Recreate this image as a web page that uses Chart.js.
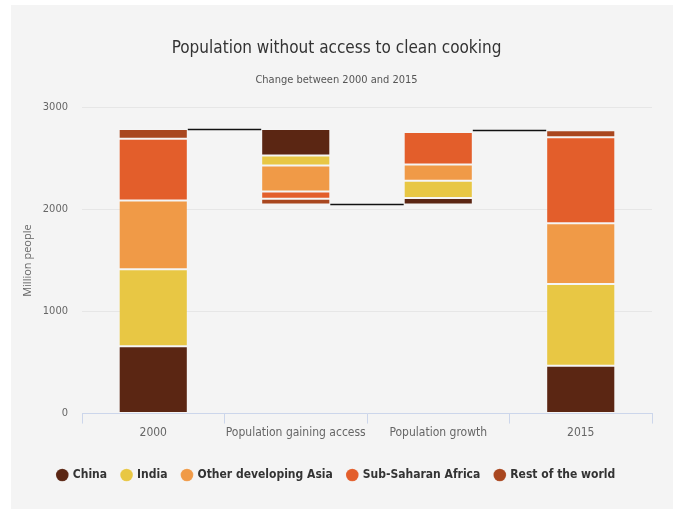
<!DOCTYPE html>
<html>
<head>
<meta charset="utf-8">
<script src="https://cdn.jsdelivr.net/npm/chart.js@4"></script>
<style>
    html, body { margin: 0; padding: 0; background: #ffffff; }
    /* grey panel behind the chart */
    .panel {
        position: absolute;
        left: 11px;
        top: 5px;
        width: 662px;
        height: 504px;
        background: #f4f4f4;
    }
</style>
</head>
<body>
<div class="panel">
    <canvas id="cookingChart" width="662" height="504"></canvas>
</div>
<script>
    const FONT = "'Liberation Sans Narrow', 'DejaVu Sans Condensed', 'Open Sans', sans-serif";

    const categories = ['2000', 'Population gaining access', 'Population growth', '2015'];
    const regions = ['China', 'India', 'Other developing Asia', 'Sub-Saharan Africa', 'Rest of the world'];
    const colors = ['#5b2613', '#e8c744', '#f09a47', '#e35e2b', '#a9471f'];

    // million people, in region order
    const people2000 = [660, 755, 675, 605, 95];
    const gainingAccess = [259, 98, 255, 71, 56];
    const growth = [62, 170, 160, 317, 19];
    const people2015 = [468, 803, 595, 843, 68];

    const yTicks = [0, 1000, 2000, 3000];

    const sum = a => a.reduce((s, v) => s + v, 0);
    const total2000 = sum(people2000);
    const afterAccess = total2000 - sum(gainingAccess);
    const afterGrowth = afterAccess + sum(growth);

    // floating [low, high] ranges for every region in every column
    function ranges(i) {
        const below = a => sum(a.slice(0, i));
        // gaining access hangs down from the 2000 total, China on top
        const accTop = total2000 - below(gainingAccess);
        return [
            [below(people2000), below(people2000) + people2000[i]],
            [accTop - gainingAccess[i], accTop],
            [afterAccess + below(growth), afterAccess + below(growth) + growth[i]],
            [below(people2015), below(people2015) + people2015[i]]
        ];
    }

    const datasets = regions.map((name, i) => ({
        label: name,
        data: ranges(i),
        backgroundColor: colors[i],
        borderColor: 'rgba(255,255,255,0.15)',
        borderWidth: 1,
        borderSkipped: false,
        grouped: false,
        categoryPercentage: 1,
        barPercentage: 0.485
    }));

    // black step lines joining the columns
    const connectors = {
        id: 'connectors',
        afterDatasetsDraw(chart) {
            const meta = chart.getDatasetMeta(0).data;
            const y = chart.scales.y;
            const levels = [total2000, afterAccess, afterGrowth];
            const ctx = chart.ctx;
            ctx.save();
            ctx.strokeStyle = '#111';
            ctx.lineWidth = 1.5;
            levels.forEach((v, k) => {
                const a = meta[k], b = meta[k + 1];
                const py = Math.round(y.getPixelForValue(v)) + 0.5;
                ctx.beginPath();
                ctx.moveTo(a.x + a.width / 2, py);
                ctx.lineTo(b.x - b.width / 2, py);
                ctx.stroke();
            });
            ctx.restore();
        }
    };

    new Chart(document.getElementById('cookingChart'), {
        type: 'bar',
        data: { labels: categories, datasets: datasets },
        plugins: [connectors],
        options: {
            responsive: false,
            animation: false,
            layout: { padding: { left: 10, right: 21, top: 0, bottom: 18 } },
            plugins: {
                title: {
                    display: true,
                    text: 'Population without access to clean cooking',
                    color: '#333333',
                    font: { family: FONT, size: 17, weight: 'normal' },
                    padding: { top: 33, bottom: 14 }
                },
                subtitle: {
                    display: true,
                    text: 'Change between 2000 and 2015',
                    color: '#555555',
                    font: { family: FONT, size: 11 },
                    padding: { top: 1, bottom: 21 }
                },
                legend: {
                    position: 'bottom',
                    labels: {
                        usePointStyle: true,
                        pointStyle: 'circle',
                        boxWidth: 9,
                        boxHeight: 9,
                        padding: 15,
                        color: '#333333',
                        font: { family: FONT, size: 12, weight: 'bold' }
                    }
                },
                tooltip: { enabled: false }
            },
            scales: {
                x: {
                    afterFit(scale) { scale.height += 12; },
                    grid: {
                        offset: true,
                        drawOnChartArea: false,
                        color: '#ccd6eb',
                        tickLength: 10
                    },
                    border: { color: '#ccd6eb' },
                    ticks: {
                        color: '#666666',
                        font: { family: FONT, size: 12 },
                        padding: 2,
                        maxRotation: 0,
                        autoSkip: false
                    }
                },
                y: {
                    min: 0,
                    max: 3000,
                    afterFit(scale) { scale.width = 61; },
                    afterBuildTicks(scale) { scale.ticks = yTicks.map(v => ({ value: v })); },
                    grid: { color: '#e6e6e6', drawTicks: false },
                    border: { display: false },
                    ticks: {
                        color: '#666666',
                        font: { family: FONT, size: 11 },
                        padding: 14,
                        callback: v => String(v)
                    },
                    title: {
                        display: true,
                        text: 'Million people',
                        color: '#666666',
                        font: { family: "'Open Sans', sans-serif", size: 11 },
                        padding: { top: 0, bottom: 4 }
                    }
                }
            }
        }
    });
</script>
</body>
</html>
